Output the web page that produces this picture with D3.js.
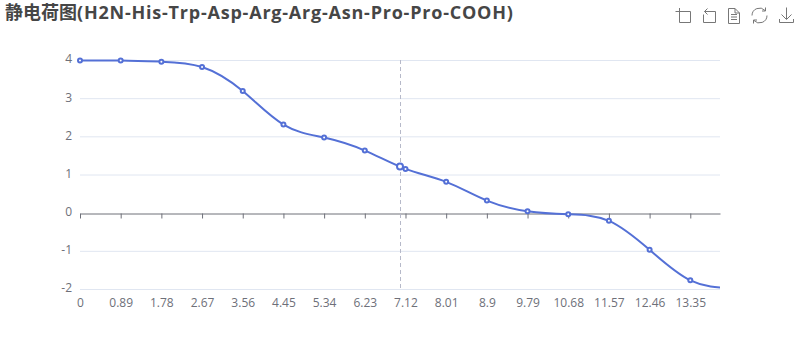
<!DOCTYPE html>
<html>
<head>
<meta charset="utf-8">
<style>
  html, body { margin: 0; padding: 0; background: #fff; }
  svg { display: block; opacity: 0.999; }
  text { font-family: "Open Sans", "Noto Sans CJK SC", sans-serif; }
</style>
<script src="https://cdn.jsdelivr.net/npm/d3@7"></script>
</head>
<body>
<svg width="800" height="360"></svg>
<script>
const titleCjk = "静电荷图"
const titleLatin = "(H2N-His-Trp-Asp-Arg-Arg-Asn-Pro-Pro-COOH)"

// pH and net charge (the last point sits past the axis end and gets clipped)
const phValues = [0, 0.89, 1.78, 2.67, 3.56, 4.45, 5.34, 6.23, 7.12, 8.01, 8.9, 9.79, 10.68, 11.57, 12.46, 13.35, 14.24]
const chargeValues = [4, 4, 3.97, 3.83, 3.2, 2.32, 1.98, 1.64, 1.16, 0.82, 0.33, 0.05, -0.03, -0.2, -0.96, -1.76, -1.97]

const xTicks = [0, 0.89, 1.78, 2.67, 3.56, 4.45, 5.34, 6.23, 7.12, 8.01, 8.9, 9.79, 10.68, 11.57, 12.46, 13.35]
const yTicks = [-2, -1, 0, 1, 2, 3, 4]

// the point under the axis pointer
const hoverPh = [7]
const hoverCharge = [1.22]

const data = phValues.map((ph, i) => ({ ph: ph, charge: chargeValues[i] }))

const x = d3.scaleLinear().domain([0, 14]).range([80, 720])
const y = d3.scaleLinear().domain([-2, 4]).range([289.5, 60.5])

const svg = d3.select("svg")

svg.append("defs").append("clipPath").attr("id", "plot-clip")
  .append("rect")
  .attr("x", 75).attr("y", 50)
  .attr("width", 645).attr("height", 250)

const title = svg.append("text")
  .attr("x", 5).attr("y", 19)
  .attr("font-size", 18).attr("font-weight", 700)
  .attr("fill", "#464646")
title.append("tspan").style("font-family", '"Noto Sans CJK SC"').text(titleCjk)
title.append("tspan").attr("letter-spacing", 0.78).text(titleLatin)

// grid lines
svg.append("g").selectAll("line")
  .data(yTicks.filter(d => d != 0)).enter()
  .append("line")
  .attr("x1", 80).attr("x2", 720)
  .attr("y1", d => y(d)).attr("y2", d => y(d))
  .attr("stroke", "#e0e6f1")

// y labels
const yAxis = svg.append("g")
  .attr("transform", "translate(80,0)")
  .call(d3.axisLeft(y).tickValues(yTicks).tickSize(0).tickPadding(8).tickFormat(d => String(d)))
yAxis.select(".domain").remove()
yAxis.selectAll("text")
  .attr("font-size", 12).attr("fill", "#6e7079")
  .attr("dy", "0.2em")

// x axis line and ticks at zero
const xAxis = svg.append("g")
  .attr("transform", `translate(0,${Math.round(y(0)) + 0.5})`)
  .call(d3.axisBottom(x).tickValues(xTicks).tickSize(5).tickSizeOuter(0).tickFormat(""))
xAxis.select(".domain").attr("stroke", "#6e7079")
xAxis.selectAll("line").attr("stroke", "#6e7079")

// x labels sit at the bottom of the plot
const xLabels = svg.append("g")
  .attr("transform", "translate(0,290)")
  .call(d3.axisBottom(x).tickValues(xTicks).tickSize(0).tickPadding(8).tickFormat(d => d))
xLabels.select(".domain").remove()
xLabels.selectAll("text")
  .attr("font-size", 12).attr("fill", "#6e7079")

// axis pointer
svg.append("line")
  .attr("x1", Math.round(x(hoverPh[0])) + 0.5).attr("x2", Math.round(x(hoverPh[0])) + 0.5)
  .attr("y1", 60).attr("y2", 290)
  .attr("stroke", "#b6b9c9")
  .attr("stroke-dasharray", "4,3")

const line = d3.line()
  .x(d => x(d.ph))
  .y(d => y(d.charge))
  .curve(d3.curveNatural)

svg.append("path")
  .datum(data)
  .attr("clip-path", "url(#plot-clip)")
  .attr("fill", "none")
  .attr("stroke", "#5470d6")
  .attr("stroke-width", 2)
  .attr("d", line)

svg.append("g").selectAll("circle")
  .data(data.filter(d => d.ph <= 14)).enter()
  .append("circle")
  .attr("cx", d => x(d.ph))
  .attr("cy", d => y(d.charge))
  .attr("r", 2)
  .attr("fill", "#fff")
  .attr("stroke", "#5470d6")
  .attr("stroke-width", 2)

svg.append("circle")
  .attr("cx", x(hoverPh[0]))
  .attr("cy", y(hoverCharge[0]))
  .attr("r", 3)
  .attr("fill", "#fff")
  .attr("stroke", "#5470d6")
  .attr("stroke-width", 2)

// toolbox icons
const icons = [
  "M679.5 8V22.5H690.5V11.5H675.5",
  "M704.5 11.5H715.5V22.5H703.5V14.5M704.5 11.5L707.5 8.5M704.5 11.5L707.5 14.5",
  "M728.5 8.5H735L739.5 13V23.5H728.5ZM735 8.5V13H739.5M731 14.5H737M731 17H737M731 19.5H737",
  "M752 15.5A7.5 7.5 0 0 1 765 10.5M767 15.5A7.5 7.5 0 0 1 754 20.5M765.5 7.5V11H762M753.5 23.5V20H757",
  "M786.5 7.5V19M781.5 14.5L786.5 19.5L791.5 14.5M779.5 19V22.5H793.5V19"
]
svg.append("g").selectAll("path")
  .data(icons).enter()
  .append("path")
  .attr("d", d => d)
  .attr("fill", "none")
  .attr("stroke", "#777")
  .attr("stroke-width", 1)
</script>
</body>
</html>
